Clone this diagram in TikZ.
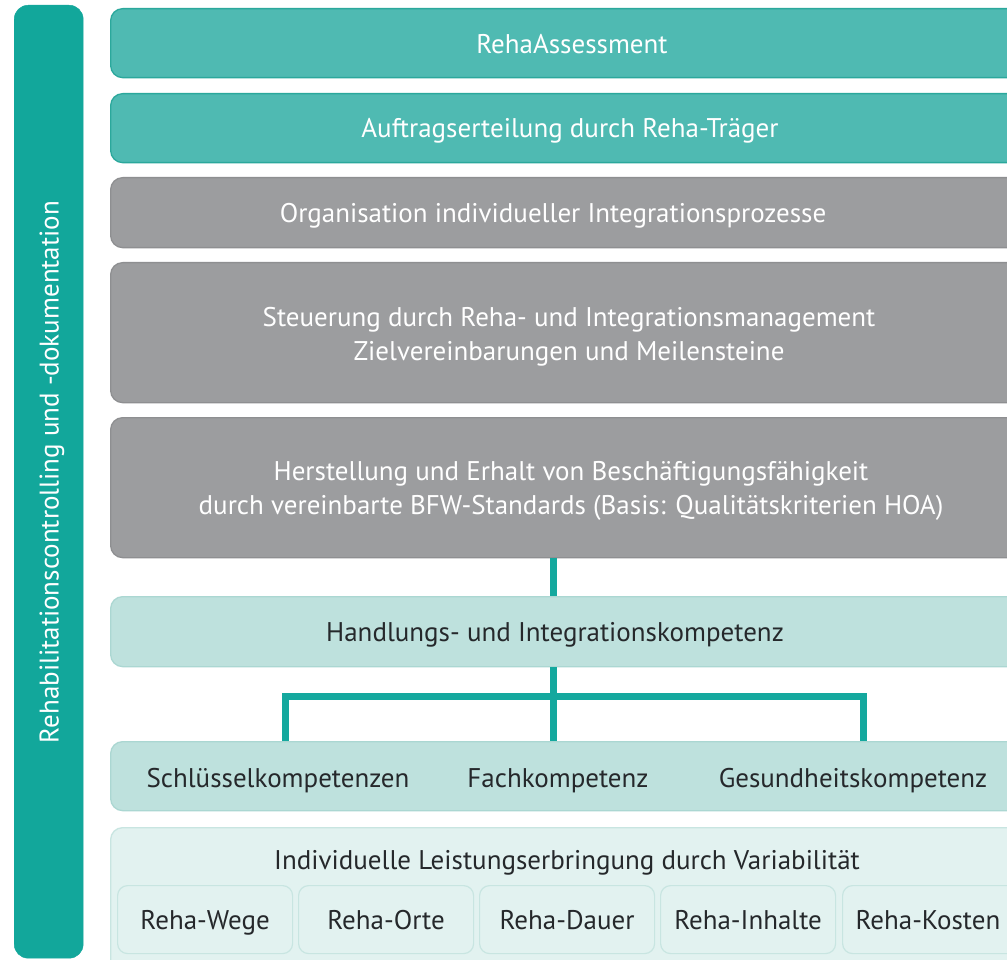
\documentclass[tikz,border=0pt]{standalone}
\usepackage{fontspec}
\setmainfont{PT Sans}
\definecolor{barTeal}{HTML}{12A79B}
\definecolor{tealFill}{HTML}{4FBAB2}
\definecolor{tealEdge}{HTML}{2BA89C}
\definecolor{grayFill}{HTML}{9C9D9F}
\definecolor{grayEdge}{HTML}{8E8F91}
\definecolor{lightFill}{HTML}{BEE1DD}
\definecolor{lightEdge}{HTML}{ABD7D2}
\definecolor{paleFill}{HTML}{E2F2F0}
\definecolor{paleEdge}{HTML}{C8E5E1}
\definecolor{darkText}{HTML}{25282B}
\definecolor{linkTeal}{HTML}{14A89E}
\begin{document}
\begin{tikzpicture}[x=1pt,y=-1pt,
  every node/.style={font=\fontsize{27}{34}\selectfont},
  bigbox/.style={anchor=north west, rounded corners=12pt, line width=1.3pt, inner sep=0pt, minimum width=940pt},
  tealbox/.style={bigbox, fill=tealFill, draw=tealEdge},
  graybox/.style={bigbox, fill=grayFill, draw=grayEdge},
  lightbox/.style={bigbox, fill=lightFill, draw=lightEdge},
  palebox/.style={bigbox, fill=paleFill, draw=paleEdge},
  smallbox/.style={anchor=north west, rounded corners=10pt, line width=1.2pt, fill=paleFill, draw=paleEdge, inner sep=0pt, minimum width=175pt, minimum height=68pt, text=darkText, text height=21pt, text depth=2pt},
  wtext/.style={text=white, align=center, inner sep=0pt, text height=21pt, text depth=2pt},
  mtext/.style={text=white, align=center, inner sep=0pt, text height=19pt, text depth=6pt},
  dtext/.style={text=darkText, align=center, inner sep=0pt, text height=21pt, text depth=2pt},
  link/.style={draw=linkTeal, line width=7pt}
]
\useasboundingbox (0,0) rectangle (1007,960);
\clip (0,0) rectangle (1007,960);
\fill[white] (0,0) rectangle (1007,960);

% left bar
\node[anchor=north west, rounded corners=14pt, fill=barTeal, draw=barTeal, minimum width=69pt, minimum height=953pt, inner sep=0pt] (bar) at (14,5) {};
\node[wtext, rotate=90] (bartext) at (49,472) {Rehabilitationscontrolling und -dokumentation};

% top boxes
\node[tealbox, minimum height=69pt] (b1) at (110,8) {};
\node[wtext] (t1) at (572,44) {RehaAssessment};
\node[tealbox, minimum height=69pt] (b2) at (110,93) {};
\node[wtext] (t2) at (570,128) {Auftragserteilung durch Reha-Träger};
\node[graybox, minimum height=70pt] (b3) at (110,177) {};
\node[wtext] (t3) at (553,213) {Organisation individueller Integrationsprozesse};
\node[graybox, minimum height=140pt] (b4) at (110,262) {};
\node[mtext] (t4) at (569,354) {Steuerung durch Reha- und Integrationsmanagement\\Zielvereinbarungen und Meilensteine};
\node[graybox, minimum height=140pt] (b5) at (110,417) {};
\node[mtext] (t5) at (571,508) {Herstellung und Erhalt von Beschäftigungsfähigkeit\\durch vereinbarte BFW-Standards (Basis: Qualitätskriterien HOA)};

% Handlungs box
\node[lightbox, minimum height=70pt] (hik) at (110,596) {};
\node[dtext] (hiktext) at (555,632) {Handlungs- und Integrationskompetenz};

% Kompetenzen box
\node[lightbox, minimum height=69pt] (komp) at (110,741) {};
\node[dtext] (k1) at (278,778) {Schlüsselkompetenzen};
\node[dtext] (k2) at (558,778) {Fachkompetenz};
\node[dtext] (k3) at (853,778) {Gesundheitskompetenz};

% bottom box
\node[palebox, minimum height=150pt] (ind) at (110,827) {};
\node[dtext] (indtext) at (567,860) {Individuelle Leistungserbringung durch Variabilität};
\node[smallbox] (s1) at (117,885) {Reha-Wege};
\node[smallbox] (s2) at (298,885) {Reha-Orte};
\node[smallbox] (s3) at (479,885) {Reha-Dauer};
\node[smallbox] (s4) at (660,885) {Reha-Inhalte};
\node[smallbox, minimum width=190pt, text width=170pt, align=left] (s5) at (842,885) {\hspace*{3pt}Reha-Kosten};

% connectors
\coordinate (c0) at (553,0);
\coordinate (cl) at (285,0);
\coordinate (cr) at (863,0);
\coordinate (hy) at (0,696);
\draw[link] (b5.south -| c0) -- (hik.north -| c0);
\draw[link] (hik.south -| c0) -- (komp.north -| c0);
\draw[link, line join=miter] (komp.north -| cl) -- (hy -| cl) -- (hy -| cr) -- (komp.north -| cr);
\end{tikzpicture}
\end{document}
